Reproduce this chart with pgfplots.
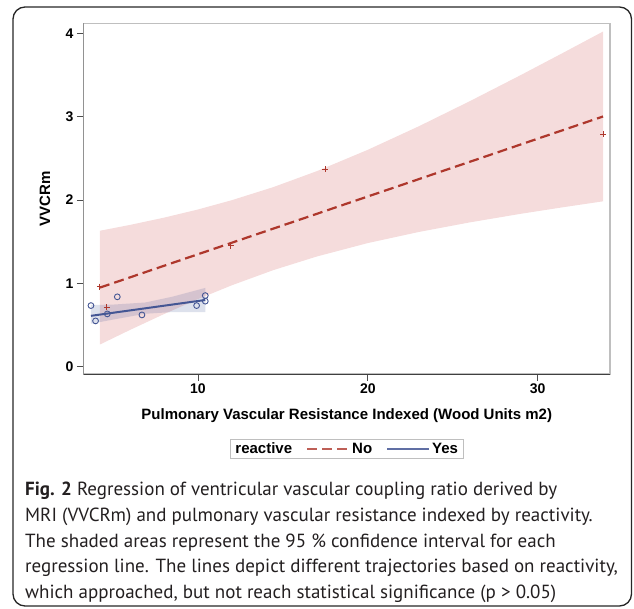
\documentclass[border=0pt]{standalone}
\usepackage{fontspec}
\setmainfont{PT Sans}
\newfontfamily\arialfont{Liberation Sans}
\usepackage{pgfplots}
\usepackage{pgfplotstable}
\pgfplotsset{compat=1.18}
\usepgfplotslibrary{fillbetween}

\definecolor{nored}{HTML}{AE372C}
\definecolor{noband}{HTML}{F5DCDC}
\definecolor{yesblue}{HTML}{445694}
\definecolor{captext}{HTML}{231F20}

% reactive = No : confidence band (x, lower, upper)
\pgfplotstableread{
x lo hi
4.23 0.266 1.631
6.00 0.441 1.701
8.00 0.631 1.788
10.0 0.811 1.886
12.0 0.977 1.998
14.43 1.158 2.154
17.0 1.322 2.346
20.0 1.483 2.602
23.0 1.616 2.884
26.0 1.731 3.185
29.0 1.834 3.498
31.5 1.913 3.766
33.85 1.984 4.021
}\bandno

% reactive = Yes : confidence band
\pgfplotstableread{
x lo hi
3.70 0.515 0.740
5.00 0.565 0.745
6.90 0.635 0.770
8.50 0.655 0.840
10.43 0.655 0.945
}\bandyes

\pgfplotstableread{
x y
4.23 0.96
4.64 0.71
11.94 1.45
17.50 2.37
33.85 2.79
}\ptsno

\pgfplotstableread{
x y
3.70 0.733
3.97 0.549
4.66 0.633
5.25 0.838
6.70 0.621
9.92 0.733
10.43 0.853
10.43 0.786
}\ptsyes

\begin{document}
\begin{tikzpicture}[x=1pt,y=1pt]
\begin{axis}[
  at={(0,0)}, anchor=south west,
  scale only axis,
  width=526.5pt, height=350.7pt,
  xmin=3.26, xmax=34.26,
  ymin=-0.088, ymax=4.12,
  xtick={10,20,30},
  ytick={0,1,2,3,4},
  xtick pos=bottom, ytick pos=left,
  tick align=outside,
  major tick length=6.5pt,
  tick style={black!70, line width=0.8pt},
  axis line style={black!25, line width=1.2pt},
  /pgf/number format/assume math mode=true,
  ticklabel style={font=\arialfont\bfseries\fontsize{14}{14}\selectfont},
  xlabel={Pulmonary Vascular Resistance Indexed (Wood Units m2)},
  ylabel={VVCRm},
  every axis x label/.style={at={(rel axis cs:0.5,0)}, anchor=center, yshift=-42pt,
    font=\arialfont\bfseries\fontsize{15}{15}\selectfont},
  every axis y label/.style={at={(rel axis cs:0,0.5)}, xshift=-38.5pt, rotate=90, anchor=center,
    font=\arialfont\bfseries\fontsize{15}{15}\selectfont},
  legend style={at={(0.5,-0.214)}, anchor=center, legend columns=3,
    draw=black!25, line width=0.8pt,
    font=\arialfont\bfseries\fontsize{15}{15}\selectfont,
    inner xsep=3pt, inner ysep=1pt,
    nodes={inner sep=2pt},
    /tikz/every even column/.append style={column sep=12pt}},
  legend image code/.code={\draw[#1] (0pt,0pt) -- (42pt,0pt);},
]
% bands
\addplot[draw=none, name path=noHi, forget plot] table[x=x, y=hi] {\bandno};
\addplot[draw=none, name path=noLo, forget plot] table[x=x, y=lo] {\bandno};
\addplot[fill=noband, draw=none, forget plot] fill between[of=noHi and noLo];
\addplot[draw=none, name path=yesHi, forget plot] table[x=x, y=hi] {\bandyes};
\addplot[draw=none, name path=yesLo, forget plot] table[x=x, y=lo] {\bandyes};
\addplot[fill=yesblue, fill opacity=0.18, draw=none, forget plot] fill between[of=yesHi and yesLo];
% fit lines
\addplot[nored, line width=2.2pt, dash pattern=on 10pt off 5pt, forget plot] coordinates {(4.23,0.949) (33.85,3.002)};
\addplot[yesblue, line width=2pt, forget plot] coordinates {(3.70,0.61) (10.43,0.80)};
% observations
\addplot[only marks, mark=+, mark size=3pt, nored, line width=1pt, forget plot] table[x=x, y=y] {\ptsno};
\addplot[only marks, mark=o, mark size=2.9pt, yesblue, line width=0.9pt, forget plot] table[x=x, y=y] {\ptsyes};
% dark left and bottom axis lines
\draw[black!75, line width=1pt] (rel axis cs:0,1) -- (rel axis cs:0,0) -- (rel axis cs:1,0);
\coordinate (O) at (rel axis cs:0,0);
% legend
\addlegendimage{empty legend}\addlegendentry{reactive}
\addlegendimage{nored!80, line width=2pt, dash pattern=on 10pt off 5pt}\addlegendentry{No}
\addlegendimage{yesblue!85, line width=2pt}\addlegendentry{Yes}
\end{axis}

% page frame and caption, in pixels of the reference measured from its bottom-left corner
\begin{scope}[shift={(O)}, shift={(-83.5,-234)}]
\path (0,0) rectangle (634,608);
\draw[line width=1.3pt, rounded corners=12pt, black!85] (13,2) rectangle (631.5,601);
\begin{scope}[every node/.style={anchor=base west, inner sep=0pt, text=captext, font=\fontsize{19}{22}\selectfont}]
\node at (25,608-495) {\textbf{Fig. 2} Regression of ventricular vascular coupling ratio derived by};
\node at (25,608-521) {MRI (VVCRm) and pulmonary vascular resistance indexed by reactivity.};
\node at (25,608-547) {The shaded areas represent the 95 \% confidence interval for each};
\node at (25,608-572) {regression line. The lines depict different trajectories based on reactivity,};
\node at (25,608-598) {which approached, but not reach statistical significance (p > 0.05)};
\end{scope}
\end{scope}
\end{tikzpicture}
\end{document}
